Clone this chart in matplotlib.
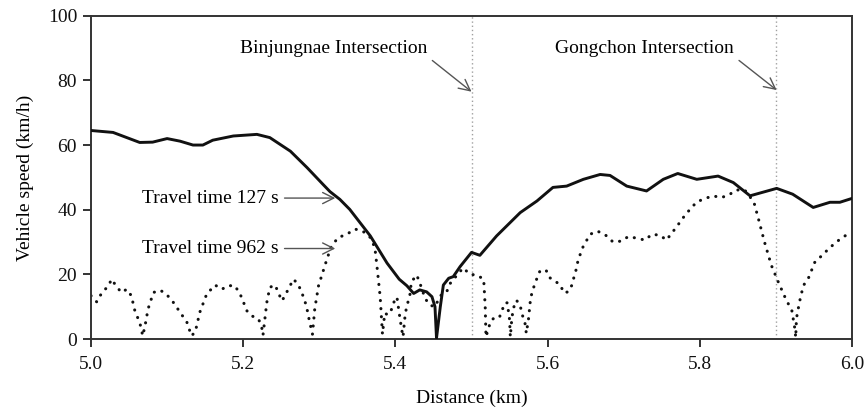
import matplotlib
matplotlib.use("Agg")
import matplotlib.pyplot as plt

plt.rcParams['font.family'] = ['Liberation Serif', 'DejaVu Serif']

# Travel time 127 s (solid)
fast_km = [5.000, 5.029, 5.064, 5.081, 5.100, 5.117, 5.134, 5.147, 5.160, 5.187,
           5.218, 5.235, 5.262, 5.284, 5.305, 5.314, 5.327, 5.340, 5.367, 5.389,
           5.405, 5.415, 5.424, 5.432, 5.441, 5.448, 5.452, 5.454, 5.459, 5.463,
           5.470, 5.476, 5.485, 5.500, 5.511, 5.533, 5.564, 5.586, 5.607, 5.625,
           5.647, 5.669, 5.682, 5.704, 5.730, 5.752, 5.771, 5.796, 5.824, 5.844,
           5.866, 5.901, 5.922, 5.949, 5.971, 5.984, 6.000]
fast_speed = [64.5, 63.9, 60.8, 60.9, 62.0, 61.2, 60.0, 60.0, 61.5, 62.8,
              63.3, 62.3, 58.1, 53.0, 47.8, 45.6, 43.2, 40.1, 31.9, 23.5,
              18.5, 16.5, 14.1, 15.2, 14.6, 13.1, 10.0, 0.3, 10.0, 16.7,
              18.8, 19.3, 22.4, 26.8, 25.9, 31.9, 39.1, 42.7, 46.9, 47.3,
              49.4, 50.9, 50.6, 47.3, 45.8, 49.4, 51.2, 49.4, 50.4, 48.4,
              44.3, 46.6, 44.8, 40.7, 42.3, 42.3, 43.5]

# Travel time 962 s (dotted)
slow_km = [5.000, 5.0075, 5.014, 5.023, 5.027, 5.034, 5.040, 5.047, 5.053, 5.058,
           5.064, 5.068, 5.071, 5.075, 5.082, 5.091, 5.099, 5.108, 5.117, 5.126,
           5.132, 5.137, 5.143, 5.152, 5.163, 5.172, 5.180, 5.189, 5.196, 5.205,
           5.211, 5.220, 5.224, 5.226, 5.231, 5.235, 5.242, 5.246, 5.251, 5.257,
           5.266, 5.272, 5.277, 5.283, 5.287, 5.291, 5.294, 5.299, 5.303, 5.310,
           5.316, 5.325, 5.336, 5.347, 5.357, 5.367, 5.373, 5.376, 5.380, 5.383,
           5.386, 5.390, 5.394, 5.397, 5.402, 5.405, 5.408, 5.410, 5.413, 5.416,
           5.419, 5.421, 5.428, 5.432, 5.439, 5.445, 5.452, 5.459, 5.467, 5.472,
           5.480, 5.489, 5.498, 5.507, 5.516, 5.518, 5.519, 5.525, 5.531, 5.537,
           5.540, 5.544, 5.547, 5.550, 5.551, 5.553, 5.555, 5.559, 5.564, 5.566,
           5.570, 5.572, 5.575, 5.577, 5.579, 5.582, 5.586, 5.590, 5.598, 5.602,
           5.611, 5.617, 5.621, 5.627, 5.632, 5.635, 5.638, 5.640, 5.647, 5.656,
           5.665, 5.675, 5.686, 5.697, 5.706, 5.717, 5.728, 5.737, 5.748, 5.756,
           5.763, 5.771, 5.778, 5.787, 5.796, 5.807, 5.818, 5.827, 5.837, 5.848,
           5.859, 5.871, 5.877, 5.885, 5.894, 5.903, 5.912, 5.921, 5.925, 5.926,
           5.927, 5.931, 5.936, 5.943, 5.951, 5.962, 5.971, 5.981, 5.992]
slow_speed = [13.4, 11.5, 14.2, 16.5, 18.5, 16.1, 14.4, 15.4, 13.4, 8.4,
              5.2, 1.0, 4.1, 9.3, 14.4, 15.1, 13.9, 11.4, 8.3, 5.2,
              1.0, 2.2, 8.3, 13.9, 16.7, 15.4, 16.5, 16.5, 13.9, 8.7,
              7.2, 6.2, 4.1, 1.2, 11.3, 16.0, 16.7, 14.4, 11.8, 14.4,
              18.5, 17.0, 14.4, 10.3, 5.6, 1.5, 9.3, 16.5, 19.5, 24.7,
              28.8, 31.4, 32.4, 34.0, 33.4, 31.4, 28.3, 22.0, 13.0, 1.5,
              8.0, 7.5, 8.5, 11.0, 13.0, 8.0, 3.3, 0.7, 8.0, 11.0,
              13.6, 17.7, 19.8, 17.4, 12.6, 10.5, 10.0, 13.4, 14.4, 17.2,
              19.5, 22.0, 20.0, 19.8, 18.5, 10.0, 0.7, 5.4, 6.9, 6.9,
              8.8, 11.2, 11.2, 6.0, 0.7, 6.4, 9.5, 12.0, 10.5, 7.9,
              5.4, 1.8, 6.4, 11.2, 13.9, 16.2, 18.8, 21.1, 21.3, 19.1,
              17.7, 16.7, 14.3, 14.6, 16.7, 19.5, 21.9, 24.4, 28.8, 32.4,
              33.4, 32.4, 30.0, 30.3, 31.7, 31.2, 30.6, 32.4, 32.1, 30.6,
              32.7, 35.2, 37.5, 40.1, 42.4, 43.5, 44.3, 43.7, 44.4, 46.1,
              46.1, 42.4, 37.2, 30.0, 22.8, 17.7, 12.9, 8.7, 3.0, 0.5,
              6.4, 11.5, 16.5, 19.0, 23.7, 26.2, 28.3, 30.3, 32.1]

intersections = [5.5, 5.9]
intersection_names = ['Binjungnae Intersection', 'Gongchon Intersection']
series_labels = ['Travel time 127 s', 'Travel time 962 s']

fig = plt.figure(figsize=(8.65, 4.08), dpi=100)
ax = fig.add_axes([0.1052, 0.169, 0.8798, 0.7925])

for xi in intersections:
    ax.axvline(xi, color='#a0a0a0', lw=1.0, ls=(0, (1, 2)), zorder=1)

ax.plot(slow_km, slow_speed, color='#111111', lw=2.2, ls=(0, (0.05, 2.6)),
        dash_capstyle='round', zorder=2)
ax.plot(fast_km, fast_speed, color='#111111', lw=2.1, zorder=3)

def arrow(rel):
    return dict(arrowstyle='->', color='#555555', lw=1.0, mutation_scale=20,
                shrinkA=2, shrinkB=0, relpos=rel)

# intersection labels
ax.annotate(intersection_names[0], xy=(5.5, 76.5), xytext=(5.442, 90),
            arrowprops=arrow((1.0, 0.0)), fontsize=14, ha='right', va='center')
ax.annotate(intersection_names[1], xy=(5.901, 77), xytext=(5.845, 90),
            arrowprops=arrow((1.0, 0.0)), fontsize=14, ha='right', va='center')

# series labels
ax.annotate(series_labels[0], xy=(5.321, 43.6), xytext=(5.247, 43.6),
            arrowprops=arrow((1.0, 0.5)), fontsize=14, ha='right', va='center')
ax.annotate(series_labels[1], xy=(5.321, 28.0), xytext=(5.247, 28.0),
            arrowprops=arrow((1.0, 0.5)), fontsize=14, ha='right', va='center')

ax.set_xlim(5.0, 6.0)
ax.set_ylim(0, 100)
ax.set_xticks([5.0, 5.2, 5.4, 5.6, 5.8, 6.0])
ax.set_yticks([0, 20, 40, 60, 80, 100])
ax.tick_params(direction='out', length=6, width=1.2, labelsize=14,
               colors='#111111', pad=4)
ax.tick_params(axis='x', pad=6)
for s in ax.spines.values():
    s.set_linewidth(1.4)
    s.set_color('#333333')

ax.set_xlabel('Distance (km)', fontsize=14, labelpad=12)
ax.set_ylabel('Vehicle speed (km/h)', fontsize=14, labelpad=10)

fig.savefig('out.png', dpi=100)
